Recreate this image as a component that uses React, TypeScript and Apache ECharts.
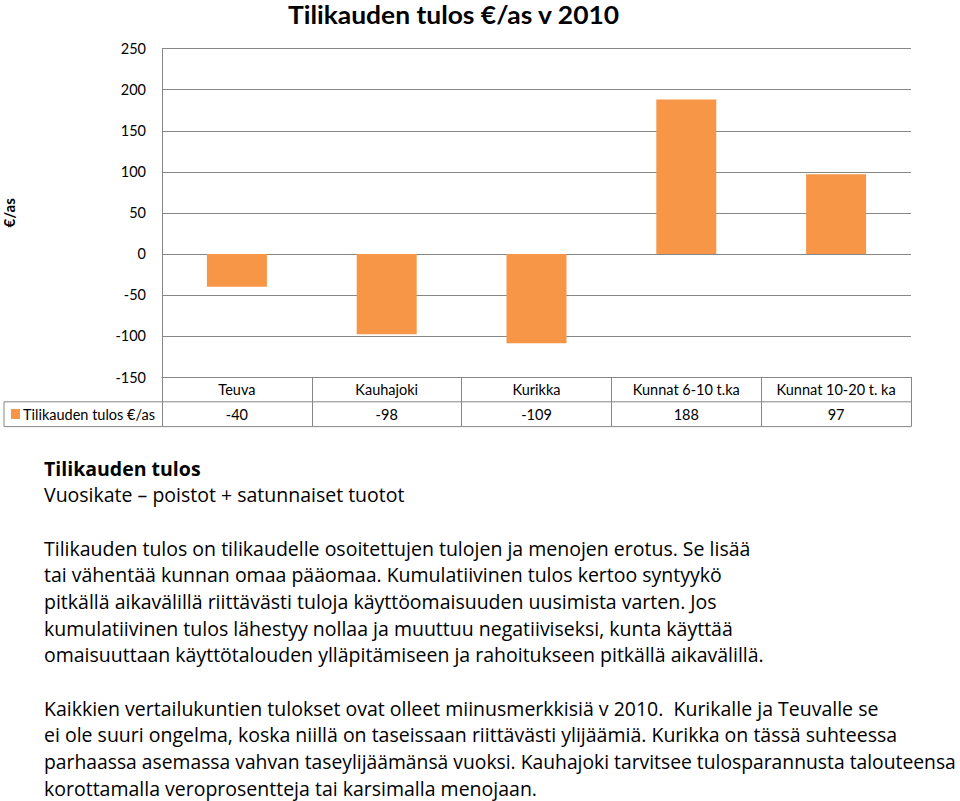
import React, { useEffect, useRef } from "react";
import * as echarts from "echarts";

const chartTitle = "Tilikauden tulos €/as v 2010";
const yAxisName = "€/as";
const seriesName = "Tilikauden tulos €/as";
const categories = ["Teuva", "Kauhajoki", "Kurikka", "Kunnat 6-10 t.ka", "Kunnat 10-20 t. ka"];
const values = [-40, -98, -109, 188, 97];
const yMin = -150;
const yMax = 250;
const yStep = 50;

const headingLines = ["Tilikauden tulos"];
const bodyLines = [
  "Vuosikate – poistot + satunnaiset tuotot",
  "",
  "Tilikauden tulos on tilikaudelle osoitettujen tulojen ja menojen erotus. Se lisää",
  "tai vähentää kunnan omaa pääomaa. Kumulatiivinen tulos kertoo syntyykö",
  "pitkällä aikavälillä riittävästi tuloja käyttöomaisuuden uusimista varten. Jos",
  "kumulatiivinen tulos lähestyy nollaa ja muuttuu negatiiviseksi, kunta käyttää",
  "omaisuuttaan käyttötalouden ylläpitämiseen ja rahoitukseen pitkällä aikavälillä.",
  "",
  "Kaikkien vertailukuntien tulokset ovat olleet miinusmerkkisiä v 2010.  Kurikalle ja Teuvalle se",
  "ei ole suuri ongelma, koska niillä on taseissaan riittävästi ylijäämiä. Kurikka on tässä suhteessa",
  "parhaassa asemassa vahvan taseylijäämänsä vuoksi. Kauhajoki tarvitsee tulosparannusta talouteensa",
  "korottamalla veroprosentteja tai karsimalla menojaan.",
];

const FONT = "Lato, 'Open Sans', sans-serif";
const BODY_FONT = "'Open Sans', Lato, sans-serif";
const GRID_LEFT = 162;
const GRID_TOP = 48.7;
const GRID_RIGHT_X = 911;
const GRID_BOTTOM_Y = 377;
const ROW_H = 24.8;
const ORANGE = "#F79646";
const LINE = "#878787";
const MAX_TEXT_W = 912;

export default function App() {
  const ref = useRef<HTMLDivElement>(null);
  useEffect(() => {
    if (!ref.current) return;
    const chart = echarts.init(ref.current, undefined, { renderer: "svg" });
    const textEls: any[] = [];
    const allLines = [...headingLines, ...bodyLines];
    allLines.forEach((t, i) => {
      if (!t) return;
      const font = `${i === 0 ? "bold " : ""}19.5px ${BODY_FONT}`;
      const w = echarts.format.getTextRect
        ? (echarts.format as any).getTextRect(t, font).width
        : 0;
      const sx = w > MAX_TEXT_W ? MAX_TEXT_W / w : 1;
      textEls.push({
        type: "text",
        x: 44,
        y: 475 + i * 26.67 - 7,
        scaleX: sx,
        style: {
          text: t,
          fill: "#000",
          verticalAlign: "middle",
          font,
        },
      });
    });
    const row1 = GRID_BOTTOM_Y + ROW_H;
    const row2 = GRID_BOTTOM_Y + 2 * ROW_H;
    chart.setOption({
      animation: false,
      backgroundColor: "#fff",
      grid: {
        left: GRID_LEFT,
        top: GRID_TOP,
        width: GRID_RIGHT_X - GRID_LEFT,
        height: GRID_BOTTOM_Y - GRID_TOP,
        containLabel: false,
        outerBoundsMode: "none",
      },
      xAxis: [
        {
          type: "category",
          data: categories,
          position: "bottom",
          axisLine: { show: true, onZero: false, lineStyle: { color: LINE, width: 1 } },
          axisTick: { show: true, inside: false, length: 2 * ROW_H, lineStyle: { color: LINE } },
          axisLabel: { color: "#000", fontFamily: FONT, fontSize: 14.5, margin: 5, interval: 0 },
          splitLine: { show: false },
        },
        {
          type: "category",
          data: values.map((v) => String(v)),
          position: "bottom",
          offset: ROW_H,
          axisLine: { show: false, onZero: false },
          axisTick: { show: false },
          axisLabel: { color: "#000", fontFamily: FONT, fontSize: 14.5, margin: 5, interval: 0 },
        },
      ],
      yAxis: {
        type: "value",
        min: yMin,
        max: yMax,
        interval: yStep,
        name: yAxisName,
        nameLocation: "middle",
        nameRotate: 90,
        nameGap: 146,
        nameMoveOverlap: false,
        nameTextStyle: { color: "#000", fontFamily: FONT, fontSize: 15, fontWeight: "bold" },
        axisLine: { show: true, lineStyle: { color: LINE } },
        axisTick: { show: false },
        axisLabel: { color: "#000", fontFamily: FONT, fontSize: 14.5, margin: 16 },
        splitLine: { show: true, lineStyle: { color: LINE, width: 1 } },
      },
      series: [
        {
          name: seriesName,
          type: "bar",
          data: values,
          barWidth: 60,
          itemStyle: { color: ORANGE },
          xAxisIndex: 0,
        },
      ],
      graphic: [
        {
          type: "text",
          x: 288,
          y: 14.5,
          scaleX: 1.1,
          style: {
            text: chartTitle,
            fill: "#000",
            verticalAlign: "middle",
            font: `bold 24px ${FONT}`,
          },
        },
        {
          type: "line",
          shape: { x1: 4, y1: row1, x2: GRID_RIGHT_X, y2: row1 },
          style: { stroke: LINE, lineWidth: 1 },
        },
        {
          type: "line",
          shape: { x1: 4, y1: row2, x2: GRID_RIGHT_X, y2: row2 },
          style: { stroke: LINE, lineWidth: 1 },
        },
        {
          type: "line",
          shape: { x1: 4, y1: row1, x2: 4, y2: row2 },
          style: { stroke: LINE, lineWidth: 1 },
        },
        {
          type: "rect",
          shape: { x: 11, y: 409, width: 9, height: 10 },
          style: { fill: ORANGE },
        },
        {
          type: "text",
          x: 23,
          y: 414,
          style: {
            text: seriesName,
            fill: "#000",
            verticalAlign: "middle",
            font: `14.5px ${FONT}`,
          },
        },
        ...textEls,
      ],
    });
    return () => chart.dispose();
  }, []);
  return (
    <div
      ref={ref}
      style={{ position: "fixed", left: 0, top: 0, width: 960, height: 801 }}
    />
  );
}
